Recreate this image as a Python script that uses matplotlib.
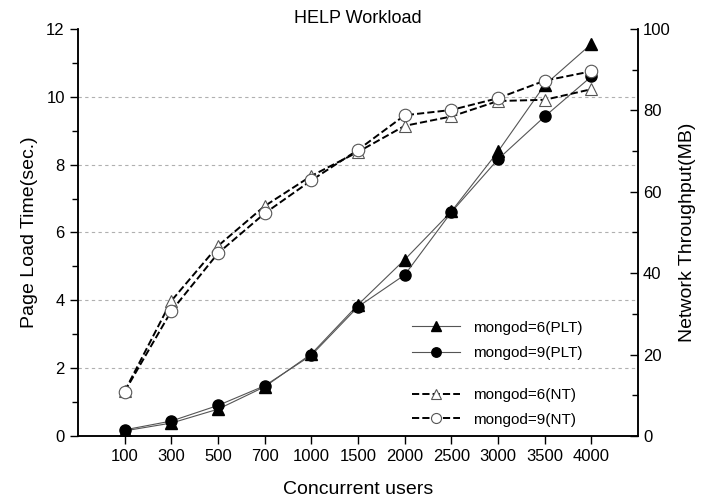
import matplotlib
matplotlib.use('Agg')
import matplotlib.pyplot as plt
from matplotlib.ticker import MultipleLocator

plt.rcParams['font.family'] = ['Liberation Sans', 'DejaVu Sans']

# data
users = ['100', '300', '500', '700', '1000', '1500', '2000', '2500', '3000', '3500', '4000']
plt6 = [0.15, 0.38, 0.79, 1.45, 2.42, 3.87, 5.2, 6.62, 8.39, 10.35, 11.56]
plt9 = [0.18, 0.44, 0.9, 1.48, 2.38, 3.81, 4.75, 6.6, 8.16, 9.42, 10.6]
nt6 = [11.0, 33.2, 46.7, 56.5, 63.9, 69.8, 76.2, 78.5, 82.3, 82.6, 85.2]
nt9 = [10.9, 30.7, 44.9, 54.7, 62.8, 70.3, 78.8, 80.1, 83.0, 87.3, 89.6]

x = list(range(1, len(users) + 1))

fig = plt.figure(figsize=(7.09, 5.04), dpi=100)
ax = fig.add_axes([0.110, 0.135, 0.790, 0.8075])
ax2 = ax.twinx()

# page load time (left axis)
l1, = ax.plot(x, plt6, '-', color='#555555', lw=0.8, marker='^', ms=8,
              mfc='black', mec='black', label='mongod=6(PLT)')
l2, = ax.plot(x, plt9, '-', color='#555555', lw=0.8, marker='o', ms=8,
              mfc='black', mec='black', label='mongod=9(PLT)')

# network throughput (right axis)
l3, = ax2.plot(x, nt6, '--', color='black', lw=1.4, marker='^', ms=9,
               mfc='white', mec='#555555', mew=0.8, label='mongod=6(NT)')
l4, = ax2.plot(x, nt9, '--', color='black', lw=1.4, marker='o', ms=9,
               mfc='white', mec='#555555', mew=0.8, label='mongod=9(NT)')

ax.set_xlim(0, 12)
ax.set_ylim(0, 12)
ax2.set_ylim(0, 100)
ax.set_xticks(x)
ax.set_xticklabels(users)
ax.yaxis.set_major_locator(MultipleLocator(2))
ax.yaxis.set_minor_locator(MultipleLocator(1))
ax2.yaxis.set_major_locator(MultipleLocator(20))
ax2.yaxis.set_minor_locator(MultipleLocator(10))

ax.tick_params(axis='both', which='major', labelsize=12, length=6, width=1)
ax.tick_params(axis='y', which='minor', length=4, width=1)
ax2.tick_params(axis='y', which='major', labelsize=12, length=6, width=1, direction='in')
ax2.tick_params(axis='y', which='minor', length=4, width=1, direction='in')

for a in (ax, ax2):
    a.spines['top'].set_visible(False)
    for s in ('left', 'right', 'bottom'):
        a.spines[s].set_linewidth(1.1)

for v in [2, 4, 6, 8, 10]:
    ax.axhline(v, color='#b0b0b0', lw=0.8, ls=(0, (3, 3)), zorder=0)

ax.set_xlabel('Concurrent users', fontsize=14, labelpad=12)
ax.set_ylabel('Page Load Time(sec.)', fontsize=14, labelpad=6)
ax2.set_ylabel('Network Throughput(MB)', fontsize=14, labelpad=6)
ax.set_title('HELP Workload', fontsize=13, pad=4)

leg1 = ax2.legend(handles=[l1, l2], loc='upper left', bbox_to_anchor=(0.571, 0.317),
                  frameon=False, fontsize=11, handlelength=3.2, labelspacing=0.75,
                  markerscale=0.85)
ax2.add_artist(leg1)
ax2.legend(handles=[l3, l4], loc='upper left', bbox_to_anchor=(0.571, 0.152),
           frameon=False, fontsize=11, handlelength=3.2, labelspacing=0.7,
           markerscale=0.8)

fig.savefig('out.png', dpi=100)
